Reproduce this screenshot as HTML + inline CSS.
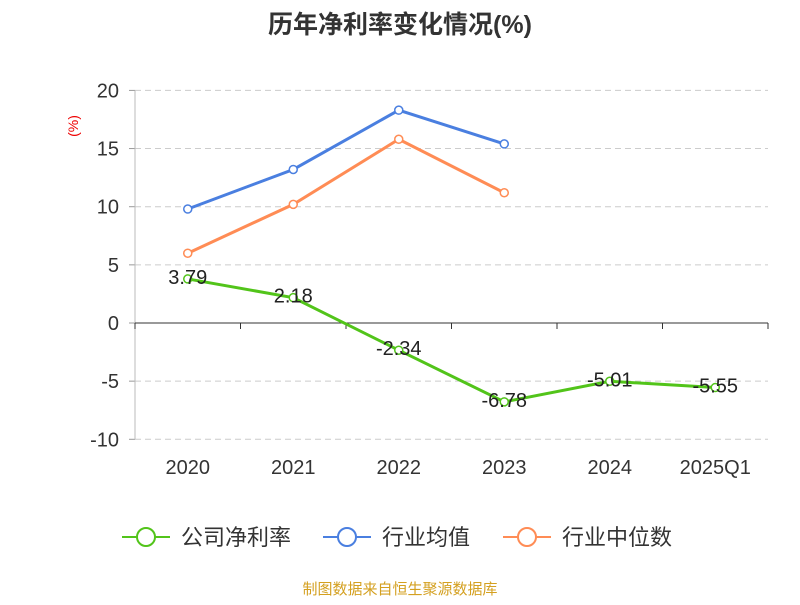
<!DOCTYPE html>
<html><head><meta charset="utf-8"><style>
body{margin:0;background:#fff;font-family:"Liberation Sans","Noto Sans CJK SC",sans-serif}
svg text{font-family:"Liberation Sans","Noto Sans CJK SC",sans-serif}
</style></head><body>
<svg width="800" height="600" id="c">
<text x="400" y="33" text-anchor="middle" font-size="25" font-weight="bold" fill="#333">历年净利率变化情况(%)</text>
<text x="78" y="126" font-size="14" fill="#e00" transform="rotate(-90 78 126)" text-anchor="middle">(%)</text>
<g id="grid"></g><g id="series"></g>
<g>
<g><line x1="122" y1="537" x2="170" y2="537" stroke="#52c41a" stroke-width="2"/><circle cx="146" cy="537" r="9" fill="#fff" stroke="#52c41a" stroke-width="2"/><text x="181" y="545" font-size="22" fill="#333">公司净利率</text></g>
<g><line x1="323" y1="537" x2="371" y2="537" stroke="#4a7fe0" stroke-width="2"/><circle cx="347" cy="537" r="9" fill="#fff" stroke="#4a7fe0" stroke-width="2"/><text x="382" y="545" font-size="22" fill="#333">行业均值</text></g>
<g><line x1="503" y1="537" x2="551" y2="537" stroke="#ff8c55" stroke-width="2"/><circle cx="527" cy="537" r="9" fill="#fff" stroke="#ff8c55" stroke-width="2"/><text x="562" y="545" font-size="22" fill="#333">行业中位数</text></g>
</g>
<text x="400" y="594" text-anchor="middle" font-size="15" fill="#d4a020">制图数据来自恒生聚源数据库</text>
</svg>
<script>
const categories=["2020","2021","2022","2023","2024","2025Q1"];
const netMargin=[3.79,2.18,-2.34,-6.78,-5.01,-5.55];
const industryAvg=[9.8,13.2,18.3,15.4];
const industryMedian=[6.0,10.2,15.8,11.2];
const yTicks=[20,15,10,5,0,-5,-10];
const NS="http://www.w3.org/2000/svg";
const x0=135,x1=768,bw=(x1-x0)/categories.length;
const xs=i=>x0+bw*(i+0.5);
const ys=v=>323-v*11.63;
function mk(t,a,p){const e=document.createElementNS(NS,t);for(const k in a)e.setAttribute(k,a[k]);p.appendChild(e);return e;}
const g=document.getElementById('grid'),s=document.getElementById('series');
yTicks.forEach(v=>{
 if(v!==0){const l=mk('line',{x1:x0,x2:x1,y1:ys(v),y2:ys(v),stroke:'#ccc','stroke-dasharray':'6,4'},g);
 
 }
 const t=mk('text',{x:x0-16,y:ys(v)+7,'text-anchor':'end','font-size':20,fill:'#333'},g);t.textContent=v;
 
 
 mk('line',{x1:x0-6,x2:x0,y1:ys(v),y2:ys(v),stroke:'#999'},g);
});
mk('line',{x1:x0,x2:x0,y1:ys(20),y2:ys(-10),stroke:'#bbb'},g);
const ax=mk('line',{x1:x0,x2:x1,y1:ys(0),y2:ys(0),stroke:'#333'},g);


for(let i=0;i<=categories.length;i++)mk('line',{x1:x0+bw*i,x2:x0+bw*i,y1:ys(0),y2:ys(0)+6,stroke:'#333'},g);
categories.forEach((c,i)=>{const t=mk('text',{x:xs(i),y:474,'text-anchor':'middle','font-size':20,fill:'#333'},g);t.textContent=c;
 
 });
function series(d,col,name,labels){
 const p=mk('polyline',{points:d.map((v,i)=>xs(i)+','+ys(v)).join(' '),fill:'none',stroke:col,'stroke-width':3},s);
 
 
 d.forEach((v,i)=>{const c=mk('circle',{cx:xs(i),cy:ys(v),r:4,fill:'#fff',stroke:col,'stroke-width':1.5},s);
 
 
 if(labels){const t=mk('text',{x:xs(i),y:ys(v)+5,'text-anchor':'middle','font-size':20,fill:'#222'},s);t.textContent=v.toFixed(2);
 
 }});
}
series(industryAvg,'#4a7fe0','industry-avg',false);
series(industryMedian,'#ff8c55','industry-median',false);
series(netMargin,'#52c41a','net-margin',true);
</script>
</body></html>
